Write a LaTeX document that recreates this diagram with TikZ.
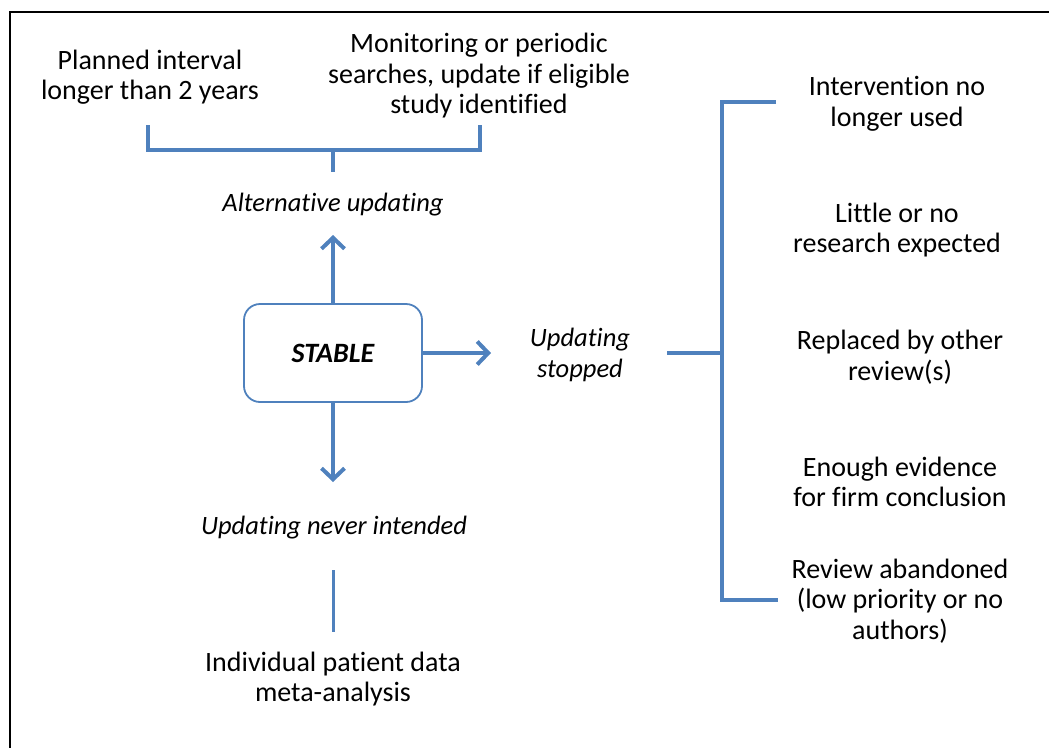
\documentclass[tikz,border=0pt]{standalone}
\usepackage{fontspec}
\setmainfont{Carlito}[Ligatures=NoCommon]
\usetikzlibrary{arrows.meta}
\definecolor{lineblue}{RGB}{79,129,189}

\begin{document}
\begin{tikzpicture}[x=1pt,y=-1pt,
	txt/.style={align=center,inner sep=0pt,font=\fontsize{28}{30.5}\selectfont},
	itxt/.style={txt,font=\fontsize{26.5}{30.5}\selectfont\itshape},
	link/.style={draw=lineblue,line width=4pt},
	arr/.style={link,-{Straight Barb[length=11pt,width=23pt]}},
	stablebox/.style={draw=lineblue,line width=1.8pt,rounded corners=16pt,minimum width=178pt,minimum height=98pt,font=\fontsize{28}{30.5}\selectfont\bfseries\itshape}]
			\useasboundingbox (0,0) rectangle (1049,748);
			\draw[line width=2.5pt] (1049,12) -- (10,12) -- (10,748);
			
			\node[txt] (planned) at (150,77) {Planned interval\\longer than 2 years};
			\node[txt] (monitor) at (479,76) {Monitoring or periodic\\searches, update if eligible\\study identified};
			\coordinate (tl) at (148,125); \coordinate (tr) at (480,125);
			\coordinate (tm) at (333,150); \coordinate (ts) at (333,172);
			\draw[link] (tl) |- (tm) -| (tr); \draw[link] (tm) -- (ts);
			\node[itxt] (alt) at (333,205) {Alternative updating};
			
			\node[stablebox] (stable) at (333,353) {STABLE};
			\coordinate (upTip) at (333,235); \coordinate (rightTip) at (491,353); \coordinate (downTip) at (333,482);
			\draw[arr] (stable) -- (upTip);
			\draw[arr] (stable) -- (rightTip);
			\draw[arr] (stable) -- (downTip);
			
			\node[itxt] (stopped) at (580,355) {Updating\\stopped};
			\node[itxt] (never) at (334,528) {Updating never intended};
			
			\coordinate (nv1) at (333,570); \coordinate (nv2) at (333,632);
			\draw[link,line width=3pt] (nv1) -- (nv2);
			\node[txt] (ipd) at (333,679) {Individual patient data\\meta-analysis};
			
			\coordinate (rs) at (667,353); \coordinate (rm) at (722,353);
			\coordinate (rt) at (776,102); \coordinate (rb) at (778,600);
			\draw[link] (rs) -- (rm);
			\draw[link] (rt) -| (rm) |- (rb);
			
			\node[txt] (nolonger) at (897,104) {Intervention no\\longer used};
			\node[txt] (little) at (897,230) {Little or no\\research expected};
			\node[txt] (replaced) at (900,357) {Replaced by other\\review(s)};
			\node[txt] (enough) at (900,482) {Enough evidence\\for firm conclusion};
			\node[txt] (abandoned) at (900,601) {Review abandoned\\(low priority or no\\authors)};
			\end{tikzpicture}
\end{document}
